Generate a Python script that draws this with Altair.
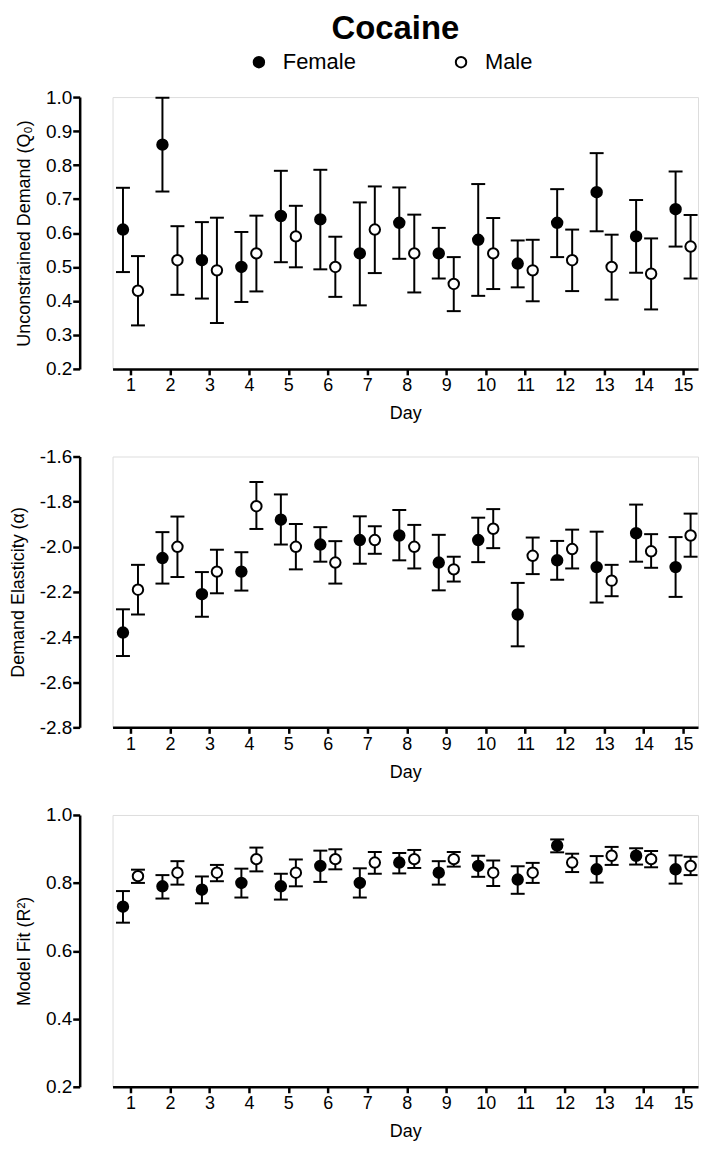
import altair as alt
import pandas as pd

# ---------------- data ----------------
days = list(range(1, 16))
groups = ["Female", "Male"]

q0_female_mean = [0.61, 0.86, 0.52, 0.50, 0.65, 0.64, 0.54, 0.63, 0.54, 0.58, 0.51, 0.63, 0.72, 0.59, 0.67]
q0_female_hi = [0.733, 0.998, 0.632, 0.603, 0.783, 0.786, 0.690, 0.734, 0.615, 0.744, 0.578, 0.729, 0.835, 0.697, 0.781]
q0_female_lo = [0.485, 0.722, 0.407, 0.397, 0.514, 0.493, 0.387, 0.524, 0.466, 0.415, 0.440, 0.529, 0.605, 0.483, 0.560]
q0_male_mean = [0.43, 0.52, 0.49, 0.54, 0.59, 0.50, 0.61, 0.54, 0.45, 0.54, 0.49, 0.52, 0.50, 0.48, 0.56]
q0_male_hi = [0.532, 0.620, 0.645, 0.651, 0.680, 0.589, 0.737, 0.654, 0.529, 0.644, 0.580, 0.610, 0.595, 0.584, 0.653]
q0_male_lo = [0.328, 0.418, 0.335, 0.428, 0.499, 0.412, 0.482, 0.425, 0.370, 0.435, 0.399, 0.429, 0.404, 0.375, 0.466]

alpha_female_mean = [-2.38, -2.05, -2.21, -2.11, -1.88, -1.99, -1.97, -1.95, -2.07, -1.97, -2.30, -2.06, -2.09, -1.94, -2.09]
alpha_female_hi = [-2.277, -1.935, -2.112, -2.024, -1.768, -1.913, -1.865, -1.837, -1.947, -1.871, -2.160, -1.974, -1.933, -1.813, -1.957]
alpha_female_lo = [-2.484, -2.163, -2.310, -2.194, -1.990, -2.066, -2.075, -2.060, -2.193, -2.068, -2.441, -2.146, -2.247, -2.066, -2.222]
alpha_male_mean = [-2.19, -2.00, -2.11, -1.82, -2.00, -2.07, -1.97, -2.00, -2.10, -1.92, -2.04, -2.01, -2.15, -2.02, -1.95]
alpha_male_hi = [-2.080, -1.866, -2.013, -1.713, -1.899, -1.975, -1.909, -1.903, -2.044, -1.833, -1.959, -1.924, -2.080, -1.944, -1.853]
alpha_male_lo = [-2.300, -2.134, -2.206, -1.921, -2.100, -2.163, -2.031, -2.096, -2.154, -2.006, -2.121, -2.096, -2.219, -2.093, -2.044]

r2_female_mean = [0.73, 0.79, 0.78, 0.80, 0.79, 0.85, 0.80, 0.86, 0.83, 0.85, 0.81, 0.91, 0.84, 0.88, 0.84]
r2_female_hi = [0.776, 0.823, 0.819, 0.842, 0.827, 0.895, 0.843, 0.888, 0.864, 0.880, 0.849, 0.928, 0.879, 0.902, 0.881]
r2_female_lo = [0.683, 0.754, 0.740, 0.757, 0.751, 0.803, 0.757, 0.828, 0.795, 0.818, 0.768, 0.890, 0.801, 0.854, 0.798]
r2_male_mean = [0.82, 0.83, 0.83, 0.87, 0.83, 0.87, 0.86, 0.87, 0.87, 0.83, 0.83, 0.86, 0.88, 0.87, 0.85]
r2_male_hi = [0.839, 0.864, 0.853, 0.904, 0.869, 0.899, 0.891, 0.897, 0.891, 0.866, 0.859, 0.886, 0.906, 0.894, 0.877]
r2_male_lo = [0.800, 0.795, 0.805, 0.834, 0.790, 0.840, 0.827, 0.844, 0.848, 0.791, 0.800, 0.832, 0.853, 0.846, 0.823]

q0_ticks = [0.2, 0.3, 0.4, 0.5, 0.6, 0.7, 0.8, 0.9, 1.0]
alpha_ticks = [-2.8, -2.6, -2.4, -2.2, -2.0, -1.8, -1.6]
r2_ticks = [0.2, 0.4, 0.6, 0.8, 1.0]

# ---------------- style / layout ----------------
FONT = "Liberation Sans"
DODGE = {"Female": -0.19, "Male": 0.19}
PLOT_W = 588
X_DOMAIN = [0.546, 15.378]


def frame(f_mean, f_lo, f_hi, m_mean, m_lo, m_hi):
    rec = []
    for g, mean, lo, hi in (("Female", f_mean, f_lo, f_hi), ("Male", m_mean, m_lo, m_hi)):
        for d, v, l, h in zip(days, mean, lo, hi):
            rec.append({"day": d, "group": g, "xpos": d + DODGE[g],
                        "mean": v, "lo": l, "hi": h})
    return pd.DataFrame(rec)


legend = alt.Legend(
    title=None, orient="none", legendX=136, legendY=-46, direction="horizontal",
    symbolType="circle", symbolSize=110, symbolStrokeColor="black", symbolStrokeWidth=2,
    symbolOpacity=1, labelFont=FONT, labelFontSize=22, labelColor="black",
    labelOffset=13, columnPadding=94, padding=0,
)


def panel(df, ytitle, ydomain, yticks, height):
    xscale = alt.Scale(domain=X_DOMAIN, nice=False, zero=False)
    yscale = alt.Scale(domain=ydomain, nice=False, zero=False)
    xaxis = alt.Axis(values=days, format="d", title="Day", grid=False,
                     domainColor="black", domainWidth=2.5, tickColor="black",
                     tickWidth=2.5, tickSize=6, labelPadding=2, titlePadding=10,
                     labelFontSize=18, titleFontSize=18, labelFont=FONT, titleFont=FONT,
                     labelColor="black", titleColor="black", titleFontWeight="normal")
    yaxis = alt.Axis(values=yticks, title=ytitle, grid=False, offset=33,
                     labelExpr="replace(format(datum.value, '.1f'), '\u2212', '-')",
                     domainColor="black", domainWidth=2.5, tickColor="black",
                     tickWidth=2.5, tickSize=7, labelPadding=1, titlePadding=12,
                     labelFontSize=19, titleFontSize=18, labelFont=FONT, titleFont=FONT,
                     labelColor="black", titleColor="black", titleFontWeight="normal")
    X = alt.X("xpos:Q", scale=xscale, axis=xaxis)
    base = alt.Chart(df)
    bars = base.mark_rule(color="black", strokeWidth=2).encode(
        x=X, y=alt.Y("lo:Q", scale=yscale, axis=yaxis), y2="hi:Q")
    cap_lo = base.mark_tick(orient="horizontal", color="black", size=14, thickness=2,
                            opacity=1).encode(
        x=X, y=alt.Y("lo:Q", scale=yscale, axis=yaxis))
    cap_hi = base.mark_tick(orient="horizontal", color="black", size=14, thickness=2,
                            opacity=1).encode(
        x=X, y=alt.Y("hi:Q", scale=yscale, axis=yaxis))
    pts = base.mark_point(shape="circle", size=110, stroke="black", strokeWidth=2,
                          opacity=1, fillOpacity=1).encode(
        x=X, y=alt.Y("mean:Q", scale=yscale, axis=yaxis),
        fill=alt.Fill("group:N", scale=alt.Scale(domain=groups, range=["black", "white"]),
                      legend=legend))
    return alt.layer(bars, cap_lo, cap_hi, pts).properties(width=PLOT_W, height=height)


top = panel(frame(q0_female_mean, q0_female_lo, q0_female_hi,
                  q0_male_mean, q0_male_lo, q0_male_hi),
            "Unconstrained Demand (Q\u2080)", [0.2, 1.0], q0_ticks, 273)
mid = panel(frame(alpha_female_mean, alpha_female_lo, alpha_female_hi,
                  alpha_male_mean, alpha_male_lo, alpha_male_hi),
            "Demand Elasticity (\u03b1)", [-2.8, -1.6], alpha_ticks, 272)
bot = panel(frame(r2_female_mean, r2_female_lo, r2_female_hi,
                  r2_male_mean, r2_male_lo, r2_male_hi),
            "Model Fit (R\u00b2)", [0.2, 1.0], r2_ticks, 273)

chart = alt.vconcat(top, mid, bot, spacing=88, bounds="flush").resolve_scale(
    y="independent", fill="shared"
).properties(
    title=alt.Title("Cocaine", font=FONT, fontSize=33, fontWeight="bold", color="black",
                    anchor="middle", offset=5, dx=41),
    padding={"left": 0, "top": 3, "right": 0, "bottom": 0},
).configure_view(strokeWidth=0, stroke="transparent").configure(background="white")

chart.save("out.html", embed_options={"renderer": "svg", "actions": False})
